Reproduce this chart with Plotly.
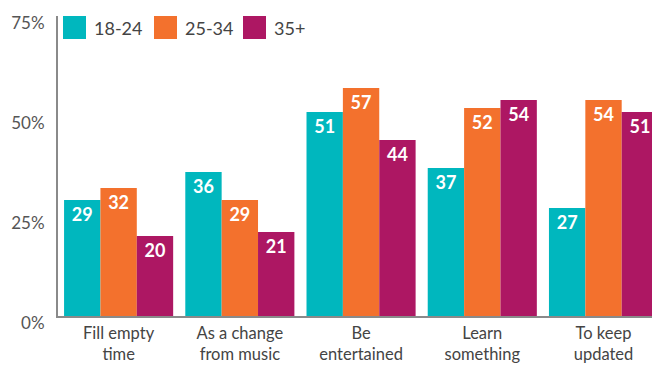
import plotly.graph_objects as go

categories = ["Fill empty<br>time", "As a change<br>from music", "Be<br>entertained", "Learn<br>something", "To keep<br>updated"]
series_names = ["18-24", "25-34", "35+"]
v_18_24 = [29, 36, 51, 37, 27]
v_25_34 = [32, 29, 57, 52, 54]
v_35p = [20, 21, 44, 54, 51]
y_ticks = [0, 25, 50, 75]
colors = ["#00B7BE", "#F3712D", "#AD1763"]

FONT = "Lato"
W, H = 652, 365
ML, MT, MB = 58, 16, 49

fig = go.Figure()
for name, vals, col in zip(series_names, [v_18_24, v_25_34, v_35p], colors):
    fig.add_trace(go.Bar(
        x=categories, y=vals, name=name, marker=dict(color=col, line=dict(width=0)),
        text=[str(v) for v in vals], textposition="inside", insidetextanchor="end",
        textfont=dict(color="white", size=18, family=FONT, weight="bold"),
        textangle=0, showlegend=False, cliponaxis=False,
    ))

plot_w = W - ML
plot_h = H - MT - MB
leg_x = [63, 154, 243]
for i, (name, col) in enumerate(zip(series_names, colors)):
    fig.add_shape(type="rect", xref="paper", yref="paper",
                  x0=(leg_x[i] - 58) / plot_w, x1=(leg_x[i] + 23 - 58) / plot_w,
                  y0=(316 - 39) / plot_h, y1=(316 - 16) / plot_h,
                  fillcolor=col, line=dict(width=0), layer="above")
    fig.add_annotation(xref="paper", yref="paper", x=(leg_x[i] + 29 - 58) / plot_w,
                       y=(316 - 28) / plot_h, text=name, showarrow=False,
                       xanchor="left", yanchor="middle",
                       font=dict(size=18, color="#444444", family=FONT))

fig.update_layout(
    width=W, height=H,
    margin=dict(l=ML, r=0, t=MT, b=MB, autoexpand=False),
    barmode="group", bargap=0.1, bargroupgap=0,
    plot_bgcolor="white", paper_bgcolor="white",
    font=dict(family=FONT, color="#444444"),
    showlegend=False,
)
fig.update_xaxes(range=[-0.5, 4.4], showline=True, linecolor="#8a8a8a", linewidth=2,
                 ticks="", tickfont=dict(size=16.5, color="#444444", family=FONT),
                 ticklabelstandoff=1,
                 showgrid=False, zeroline=False, automargin=False)
fig.update_yaxes(range=[0, 75], tickvals=y_ticks, ticktext=[f"{t}%" for t in y_ticks],
                 showline=True, linecolor="#8a8a8a", linewidth=2, showgrid=False,
                 zeroline=False, ticks="", ticklabelshift=7, ticklabelstandoff=8,
                 automargin=False,
                 tickfont=dict(size=17, color="#555555", family=FONT))

fig.write_html("out.html", config={"displayModeBar": False},
               post_script="document.body.style.margin='0';document.body.style.overflow='hidden';")
